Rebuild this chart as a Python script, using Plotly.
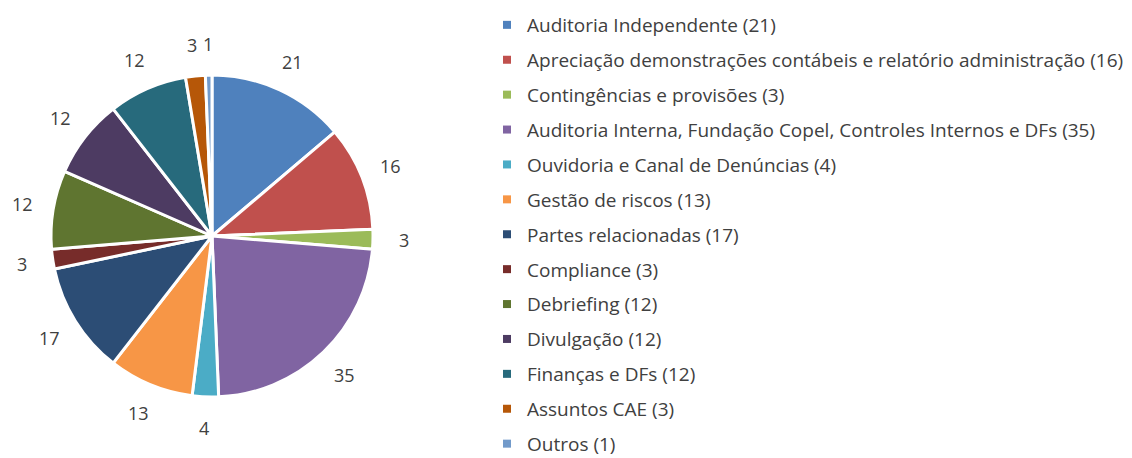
import math
import plotly.graph_objects as go

categories = [
    "Auditoria Independente",
    "Apreciação demonstrações contábeis e relatório administração",
    "Contingências e provisões",
    "Auditoria Interna, Fundação Copel, Controles Internos e DFs",
    "Ouvidoria e Canal de Denúncias",
    "Gestão de riscos",
    "Partes relacionadas",
    "Compliance",
    "Debriefing",
    "Divulgação",
    "Finanças e DFs",
    "Assuntos CAE",
    "Outros",
]
values = [21, 16, 3, 35, 4, 13, 17, 3, 12, 12, 12, 3, 1]
colors = ["#4F81BD", "#C0504D", "#9BBB59", "#8064A2", "#4BACC6", "#F79646",
          "#2C4D75", "#772C2A", "#5F7530", "#4D3B62", "#276A7C", "#B65708", "#729ACA"]

FONT = "Open Sans"
TXT = "#404040"
W, H = 1132, 458

# pie placement (pixels)
CX, CY, R = 212, 236, 161
LABEL_OFFSET = 31

fig = go.Figure()
fig.add_trace(go.Pie(
    labels=categories, values=values, sort=False, direction="clockwise", rotation=0,
    marker=dict(colors=colors, line=dict(color="white", width=3)),
    textinfo="none",
    domain=dict(x=[(CX - R) / W, (CX + R) / W], y=[(H - CY - R) / H, (H - CY + R) / H]),
    showlegend=False, hoverinfo="label+value",
))

# value labels outside each slice, placed at the slice's mid-angle
total = sum(values)
cum = 0
for v in values:
    mid = (cum + v / 2) / total * 2 * math.pi
    cum += v
    d = R + LABEL_OFFSET
    px = CX + d * math.sin(mid)
    py = CY - d * math.cos(mid)
    fig.add_annotation(x=px / W, y=1 - py / H, xref="paper", yref="paper",
                       text=str(v), showarrow=False, xanchor="center", yanchor="middle",
                       font=dict(family=FONT, size=18, color=TXT))

for c, v, col in zip(categories, values, colors):
    fig.add_trace(go.Scatter(
        x=[None], y=[None], mode="markers", name=f"{c} ({v})",
        marker=dict(symbol="square", size=8, color=col),
        legendgroup=c, showlegend=True,
    ))

fig.update_layout(
    width=W, height=H,
    margin=dict(l=0, r=0, t=0, b=0, autoexpand=False),
    paper_bgcolor="white", plot_bgcolor="white",
    xaxis=dict(visible=False), yaxis=dict(visible=False),
    legend=dict(x=487 / W, y=1 - 6 / H, xanchor="left", yanchor="top",
                font=dict(family=FONT, size=19, color=TXT),
                traceorder="grouped", tracegroupgap=7.2, itemwidth=30,
                maxheight=2000,
                bgcolor="rgba(0,0,0,0)"),
    font=dict(family=FONT, color=TXT),
)
fig.write_html("out.html", config={"displayModeBar": False},
               post_script="document.body.style.margin='0';")
